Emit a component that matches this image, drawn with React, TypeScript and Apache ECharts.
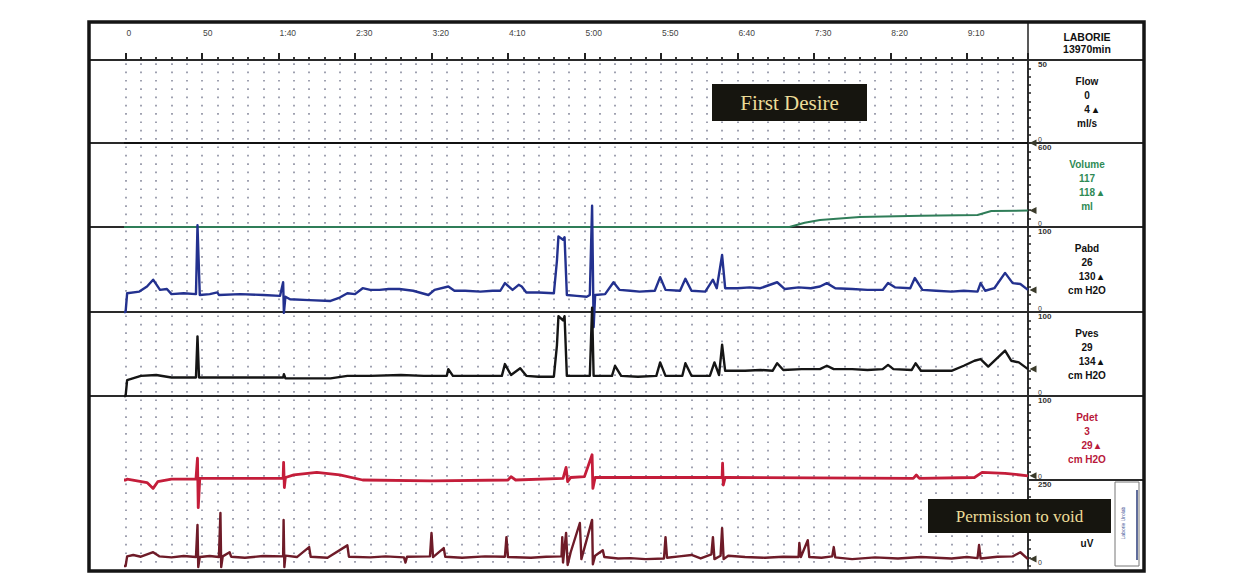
import React, { useEffect, useRef } from "react";
import * as echarts from "echarts";

// ---- data (time in seconds) ----
const timeTickLabels = ["0", "50", "1:40", "2:30", "3:20", "4:10", "5:00", "5:50", "6:40", "7:30", "8:20", "9:10"];

const flowData: number[][] = [[-21, 0], [590, 0]];

const volumeData: number[][] = [
  [-21, 0], [0, 0], [434, 0], [444, 30], [454, 50], [480, 72], [520, 80], [557, 86], [566, 114], [590, 118],
];

const pabdData: number[][] = [
  [-21, 0], [0, 0], [1, 22], [9, 24], [14, 30], [18, 38], [22.5, 26], [27, 27], [30, 21], [38, 22], [46, 21], [47, 102], [48.5, 20],
  [55, 21], [60, 23], [61, 20], [75, 21], [90, 20], [101, 19], [103, 35], [103.5, -1], [104.5, 18], [107.5, 15], [120, 14], [134, 13], [140, 17], [145, 22], [150, 21], [155, 28],
  [160, 26], [166, 26], [172, 27], [179, 27], [188, 25], [198, 20], [202, 26], [211, 30], [215, 25], [222, 25], [232, 24], [240, 25], [245, 25], [248, 34], [253, 26],
  [257, 32], [259, 30], [262, 23], [270, 23], [280, 22], [282, 60], [283, 89], [286, 85], [287, 88], [288.5, 20], [295, 19], [301.5, 18],
  [303.5, 20], [305, 125], [306, -18], [307, 20], [313.5, 21], [319, 35], [323, 26], [330, 25], [336, 24], [346, 25], [349.5, 41],
  [353, 26], [362.5, 25], [366, 39], [370, 25], [379, 24], [384, 38], [386.5, 28], [390, 67], [392, 28], [400, 28], [408, 29], [415, 28],
  [426, 35], [431, 27], [440, 29], [448, 28], [454, 30], [458.5, 34], [464, 28], [475, 27], [485, 26], [495, 26], [498.5, 34], [503, 29], [513, 28], [516, 40],
  [521, 26], [530, 25], [540, 24], [548, 25], [557, 24], [559, 34], [562, 25], [568, 28], [575, 46], [580, 34], [585, 33], [590, 26],
];

const pvesData: number[][] = [
  [-21, 0], [0, 0], [1, 19], [10, 24], [20, 25], [30, 22], [46, 22], [47, 71], [48, 22], [70, 22], [90, 22], [103, 22], [103.5, 26],
  [104.5, 21], [120, 21], [134, 21], [145, 24], [160, 24], [180, 25], [195, 24], [210, 24], [211, 32], [214, 24], [230, 24], [246, 24], [248, 38], [252, 25], [258, 33],
  [262, 24], [270, 23], [280, 23], [282, 60], [283, 95], [286, 90], [287, 95], [288.5, 24], [303.5, 24], [305, 105], [306, 24],
  [318, 24], [320, 36], [324, 24], [335, 23], [347, 24], [349.5, 40], [353, 24], [364, 24], [366, 39], [370, 24], [382, 24],
  [385, 40], [388, 25], [390, 61], [392, 30], [405, 30], [415, 31], [423, 30], [426, 39], [430, 31], [442, 32], [454, 32], [458.5, 36], [463, 32],
  [475, 32], [485, 31], [495, 32], [498.5, 37], [502, 32], [514, 31], [516.5, 39], [520, 30], [530, 30], [540, 30], [548, 36], [555, 42], [559, 44], [564, 35],
  [575, 54], [579, 42], [584, 40], [590, 32],
];

const pdetData: number[][] = [
  [-21, 0], [0, 0], [1, 1], [14, -3], [18, -10], [21, -2], [30, 1], [46, 1], [47, 26], [47.5, -33], [48.5, 2],
  [103, 2], [103.3, 21], [103.8, -9], [104.5, 3], [110, 6], [125, 9], [140, 6], [155, 0], [200, -1], [250, 0],
  [252, 4], [255, 0], [286, 2], [288, 15], [289, -2], [291, 3], [300, 4], [305, 30], [305.5, -10], [307, 3],
  [390, 3], [390.3, 20], [390.8, -6], [392, 3], [515, 2], [517, 6], [519, 2], [555, 3], [560, 9], [575, 8], [590, 5],
];

const emgData: number[][] = [
  [-21, 0], [0, 0], [1, 28], [5, 32], [10, 27], [18, 40], [22, 28], [30, 25], [38, 29], [46, 26], [47, 119], [47.5, -3], [48.5, 26], [55, 29], [61, 26],
  [62, 154], [62.5, -3], [63.5, 28], [68, 40], [69, 27], [78, 24], [90, 29], [103, 28], [103.3, 134], [103.8, -3], [104.5, 30], [112, 26], [120, 55],
  [121, 27], [132, 24], [145, 60], [146, 27], [160, 25], [170, 28], [182, 25], [183, 10], [184, 27], [199, 28], [200, 96], [201, 26], [208, 52],
  [209, 27], [220, 24], [235, 28], [248, 27], [249, 84], [250, 26], [265, 24], [275, 27], [285, 28], [285.5, 84], [286, 10], [288, 96], [289, 3], [291, 40],
  [297, 125], [298, 20], [305, 134], [305.5, 5], [307, 30], [312, 46], [313, 26], [322, 22], [330, 23], [340, 20], [352, 22], [353, 84],
  [354, 24], [362, 28], [370, 32], [376, 22], [383, 34], [384, 84], [385, 20], [389, 30], [390, 110], [391, 20], [394, 30], [405, 26], [418, 24], [430, 27], [440, 26],
  [440.5, 67], [441.5, 26], [446, 75], [447, 26], [455, 24], [462, 28], [463, 55], [464, 25], [475, 20], [490, 25], [505, 22], [520, 26], [540, 22], [550, 26], [557, 23], [558, 61],
  [559, 22], [570, 27], [580, 28], [585, 40], [590, 20],
];

const channelNames = ["Flow", "Volume", "Pabd", "Pves", "Pdet", ""];
const channelCurrent = ["0", "117", "26", "29", "3", ""];
const channelPeak = ["4", "118", "130", "134", "29", ""];
const channelUnits = ["ml/s", "ml", "cm H2O", "cm H2O", "cm H2O", "uV"];
const channelMax = [50, 600, 100, 100, 100, 250];

// ---- layout ----
const X0 = 125.6;
const XR = 1028;
const T_MAX = 590;
const HEADER_TOP = 28;
const HEADER_BOTTOM = 60;
const panelTops = [60, 143, 227, 312, 396, 480];
const panelBottoms = [143, 227, 312, 396, 480, 566];
const panelColors = ["#111111", "#2f7d58", "#23318f", "#151515", "#c41d3a", "#6e1b28"];
const panelWidths = [2, 2, 2.4, 2.4, 2.8, 2.4];
const labelColors = ["#111", "#2e8a55", "#111", "#111", "#b8183a", "#111"];
const panelSeries = [flowData, volumeData, pabdData, pvesData, pdetData, emgData];

export default function App() {
  const ref = useRef<HTMLDivElement>(null);

  useEffect(() => {
    if (!ref.current) return;
    const chart = echarts.init(ref.current, undefined, { renderer: "svg" });

    const grids: any[] = [{ left: X0, width: XR - X0, top: HEADER_TOP, height: HEADER_BOTTOM - HEADER_TOP }];
    const xAxes: any[] = [
      {
        gridIndex: 0, type: "value", min: 0, max: T_MAX, interval: 10, position: "bottom",
        axisLine: { show: false, onZero: false }, axisTick: { show: true, inside: true, length: 3, lineStyle: { color: "#333", width: 2 } },
        axisLabel: { show: false }, splitLine: { show: false },
      },
      {
        gridIndex: 0, type: "value", min: 0, max: T_MAX, interval: 50, position: "bottom",
        axisLine: { show: false, onZero: false }, axisTick: { show: true, inside: true, length: 7, lineStyle: { color: "#222", width: 2 } },
        axisLabel: {
          show: true, inside: true, margin: 27, align: "left", verticalAlign: "middle", fontSize: 8.5, color: "#444",
          fontFamily: "Liberation Sans, Arial, sans-serif", padding: [0, 0, 0, 1],
          formatter: (v: number) => timeTickLabels[Math.round(v / 50)] ?? "",
        },
        splitLine: { show: false },
      },
    ];
    const yAxes: any[] = [{ gridIndex: 0, type: "value", min: 0, max: 1, show: false }];
    const series: any[] = [];

    panelTops.forEach((top, i) => {
      const h = panelBottoms[i] - top;
      const gi = i + 1;
      const period = h / 10;
      grids.push({ left: X0, width: XR - X0, top, height: h });
      xAxes.push({
        gridIndex: gi, type: "value", min: 0, max: T_MAX, interval: 10,
        axisLine: { show: false, onZero: false }, axisTick: { show: false }, axisLabel: { show: false },
        splitLine: {
          show: true,
          lineStyle: { color: "#8f91a3", width: 1.7, type: [1.7, period - 1.7], dashOffset: period - 3.5 },
        },
      });
      const M = channelMax[i];
      yAxes.push({
        gridIndex: gi, type: "value", min: 0, max: M, interval: M / 10, position: "right",
        axisLine: { show: true, onZero: false, lineStyle: { color: "#222", width: 1.5 } },
        axisTick: { show: true, length: 3, lineStyle: { color: "#222", width: 1.5 } },
        axisLabel: {
          show: true, margin: 10, verticalAlign: "top", fontSize: 8, color: "#333", fontWeight: "bold",
          fontFamily: "Liberation Sans, Arial, sans-serif",
          formatter: (v: number) => (v === M ? String(M) : ""),
        },
        splitLine: { show: false },
      });
      yAxes.push({
        gridIndex: gi, type: "value", min: 0, max: M, interval: M, position: "right",
        axisLine: { show: false, onZero: false }, axisTick: { show: false },
        axisLabel: {
          show: true, margin: 10, verticalAlign: "bottom", fontSize: 7, color: "#333",
          fontFamily: "Liberation Sans, Arial, sans-serif", showMaxLabel: false,
          formatter: (v: number) => (v === 0 ? "0" : ""),
        },
        splitLine: { show: false },
      });
      const data = panelSeries[i];
      const last = data[data.length - 1];
      series.push({
        type: "line",
        name: channelNames[i] || "EMG",
        xAxisIndex: gi + 1,
        yAxisIndex: 2 * i + 1,
        data,
        showSymbol: false,
        clip: false,
        z: 3,
        lineStyle: { color: panelColors[i], width: panelWidths[i], join: "round" },
        itemStyle: { color: panelColors[i] },
        markPoint: {
          symbol: "triangle", symbolSize: 7, symbolRotate: 90, symbolOffset: [5, 0],
          label: { show: false }, itemStyle: { color: "#3a3a2a" },
          data: [{ coord: [last[0], last[1]] }],
        },
      });
    });

    const font = (s: number) => `bold ${s}px "Liberation Sans", Arial, sans-serif`;
    const graphic: any[] = [
      { type: "rect", z: 50, shape: { x: 89, y: 22, width: 1055, height: 549 }, style: { fill: "none", stroke: "#151515", lineWidth: 3.5 } },
      { type: "line", z: 1, shape: { x1: XR, y1: 22, x2: XR, y2: 571 }, style: { stroke: "#222", lineWidth: 1.5 } },
    ];
    [HEADER_BOTTOM, 143, 227, 312, 396].forEach((y) => {
      graphic.push({ type: "line", z: 1, shape: { x1: 89, y1: y, x2: 1144, y2: y }, style: { stroke: "#2a2a2a", lineWidth: 2 } });
    });
    graphic.push({ type: "line", z: 1, shape: { x1: XR, y1: 480, x2: 1144, y2: 480 }, style: { stroke: "#2a2a2a", lineWidth: 2 } });

    const cx = 1087;
    graphic.push({ type: "text", z: 60, x: cx, y: 37, style: { text: "LABORIE", fill: "#111", font: font(10.5), textAlign: "center", textVerticalAlign: "middle" } });
    graphic.push({ type: "text", z: 60, x: cx, y: 49, style: { text: "13970min", fill: "#111", font: font(10.5), textAlign: "center", textVerticalAlign: "middle" } });

    const offs = [21, 35, 49, 63];
    panelTops.forEach((top, i) => {
      const col = labelColors[i];
      if (i === 5) {
        graphic.push({ type: "text", z: 60, x: cx, y: 543, style: { text: channelUnits[i], fill: col, font: font(10), textAlign: "center", textVerticalAlign: "middle" } });
        return;
      }
      const lines = [channelNames[i], channelCurrent[i], channelPeak[i] + " \u25B4", channelUnits[i]];
      lines.forEach((t, k) => {
        graphic.push({
          type: "text", z: 60, x: k === 2 ? cx + 4 : cx, y: top + offs[k],
          style: { text: t, fill: col, font: font(10), textAlign: "center", textVerticalAlign: "middle" },
        });
      });
    });

    // EMG sidebar box
    graphic.push({ type: "rect", z: 40, shape: { x: 1115, y: 482, width: 24, height: 84 }, style: { fill: "#fff", stroke: "#777", lineWidth: 1 } });
    graphic.push({ type: "line", z: 41, shape: { x1: 1137, y1: 490, x2: 1137, y2: 560 }, style: { stroke: "#2b3d7a", lineWidth: 1.5 } });
    graphic.push({
      type: "text", z: 41, x: 1123, y: 523, rotation: Math.PI / 2,
      style: { text: "Laborie Urolab", fill: "#4a5a9a", font: '5px "Liberation Sans", Arial, sans-serif', textAlign: "center", textVerticalAlign: "middle" },
    });

    // annotation boxes
    graphic.push({
      type: "group", z: 100,
      children: [
        { type: "rect", z: 100, shape: { x: 712, y: 84, width: 155, height: 37 }, style: { fill: "#16150f" } },
        { type: "text", z: 101, x: 789.5, y: 103, style: { text: "First Desire", fill: "#ecdc98", font: '21px "Liberation Serif", "Times New Roman", serif', textAlign: "center", textVerticalAlign: "middle" } },
      ],
    });
    graphic.push({
      type: "group", z: 100,
      children: [
        { type: "rect", z: 100, shape: { x: 928, y: 499, width: 183, height: 34 }, style: { fill: "#16150f" } },
        { type: "text", z: 101, x: 1019.5, y: 516, style: { text: "Permission to void", fill: "#ecdc98", font: '17px "Liberation Serif", "Times New Roman", serif', textAlign: "center", textVerticalAlign: "middle" } },
      ],
    });

    chart.setOption({
      animation: false,
      backgroundColor: "#ffffff",
      grid: grids,
      xAxis: xAxes,
      yAxis: yAxes,
      series,
      graphic,
    });

    return () => chart.dispose();
  }, []);

  return <div ref={ref} style={{ position: "fixed", left: 0, top: 0, width: 1250, height: 587, background: "#fff" }} />;
}
